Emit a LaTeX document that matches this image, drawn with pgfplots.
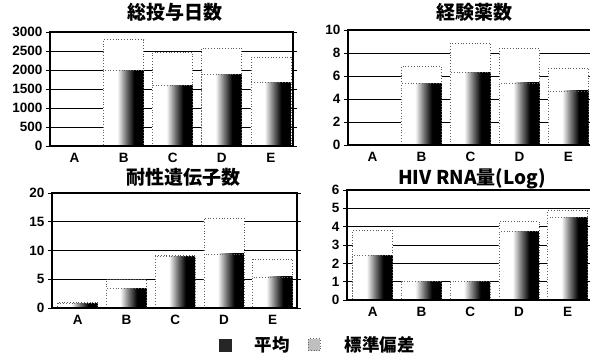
\documentclass[border=0pt]{standalone}
\usepackage{fontspec}
\setmainfont{Liberation Sans}
\newfontfamily\jp{Noto Sans CJK JP}
\usepackage{pgfplots}
\usepackage{pgfplotstable}
\pgfplotsset{compat=1.18}
\pgfdeclareverticalshading{barshade}{100bp}{color(0bp)=(black); color(37bp)=(black); color(47bp)=(black!55); color(58bp)=(white); color(100bp)=(white)}

% mean and mean + standard deviation (top)
\pgfplotstableread{
x mean top
0 0 0
1 2000 2800
2 1600 2460
3 1890 2580
4 1680 2340
}\tdays
\pgfplotstableread{
x mean top
0 0 0
1 5.35 6.85
2 6.3 8.85
3 5.4 8.4
4 4.7 6.7
}\tdrugs
\pgfplotstableread{
x mean top
0 0.8 1.0
1 3.4 4.9
2 9.0 9.1
3 9.4 15.6
4 5.4 8.5
}\tgenes
\pgfplotstableread{
x mean top
0 2.45 3.8
1 1.0 1.0
2 1.0 1.0
3 3.73 4.28
4 4.49 4.87
}\trna

\pgfplotsset{panel/.style={
  scale only axis, ybar, bar width=40pt,
  xmin=-0.5, xmax=4.5, ymin=0,
  xtick={0,...,4}, xticklabels={A,B,C,D,E},
  ymajorgrids, major grid style={black,line width=0.8pt},
  axis line style={line width=1.6pt},
  tick align=outside, xtick style={draw=none},
  ytick style={black,line width=1pt}, major tick length=4pt,
  ticklabel style={font=\bfseries\fontsize{13.5}{13.5}\selectfont},
  /pgf/number format/assume math mode=true,
  /pgf/number format/1000 sep={},
  scaled y ticks=false,
  clip=false,
  title style={font=\jp\bfseries\fontsize{19}{19}\selectfont, anchor=base, inner sep=0pt},
},
meanbar/.style={bar shift=0pt, draw=black!60, dotted, line width=0.8pt, shade, shading=barshade, shading angle=90},
sdbar/.style={bar shift=0pt, fill=white, draw=black!65, dotted, line width=0.8pt},
}

\begin{document}
\begin{tikzpicture}
\path[use as bounding box] (0pt,0pt) rectangle (590pt,360pt);
\clip (0pt,0pt) rectangle (590pt,360pt);

% top-left
\begin{axis}[panel, at={(50pt,214pt)}, anchor=south west, width=243pt, height=114pt,
  xmax=4.45, ymax=3000, ytick={0,500,...,3000},
  title={総投与日数}, title style={at={(0.514,1.061)}}]
\addplot[sdbar, forget plot] table[x=x,y=top]{\tdays};
\pgfplotsinvokeforeach{1,...,4}{
  \addplot[meanbar, forget plot] table[x=x,y=mean, restrict x to domain=#1:#1]{\tdays};
}
\draw[line width=1.6pt] (rel axis cs:0,0) -- (rel axis cs:1,0);
\end{axis}

% top-right
\begin{axis}[panel, at={(348pt,215pt)}, anchor=south west, width=245pt, height=115pt,
  ymax=10, ytick={0,2,...,10},
  title={経験薬数}, title style={at={(0.518,1.043)}}]
\addplot[sdbar, forget plot] table[x=x,y=top]{\tdrugs};
\pgfplotsinvokeforeach{1,...,4}{
  \addplot[meanbar, forget plot] table[x=x,y=mean, restrict x to domain=#1:#1]{\tdrugs};
}
\draw[line width=1.6pt] (rel axis cs:0,0) -- (rel axis cs:1,0);
\end{axis}

% bottom-left
\begin{axis}[panel, at={(52pt,52pt)}, anchor=south west, width=245pt, height=115pt,
  xmin=-0.53, ymax=20, ytick={0,5,...,20},
  title={耐性遺伝子数}, title style={at={(0.535,1.026)}},
  legend style={at={(1.08,-0.32)}, anchor=center, draw=none, fill=none,
    legend columns=2, font=\jp\bfseries\fontsize{17.5}{17.5}\selectfont,
    nodes={inner xsep=0pt},
    /tikz/every odd column/.append style={column sep=24pt},
    /tikz/every even column/.append style={column sep=18pt}}]
\addlegendimage{legend image code/.code={\fill[black!85] (0pt,-6pt) rectangle (12pt,6pt);}}
\addlegendimage{legend image code/.code={\draw[black!60, dotted, line width=0.8pt, fill=black!25] (0pt,-6pt) rectangle (12pt,6pt);}}
\addplot[sdbar, forget plot] table[x=x,y=top]{\tgenes};
\pgfplotsinvokeforeach{0,...,4}{
  \addplot[meanbar, forget plot] table[x=x,y=mean, restrict x to domain=#1:#1]{\tgenes};
}
\legend{平均,標準偏差}
\draw[line width=1.6pt] (rel axis cs:0,0) -- (rel axis cs:1,0);
\end{axis}

% bottom-right
\begin{axis}[panel, at={(347pt,60pt)}, anchor=south west, width=245pt, height=110pt,
  xmin=-0.53, ymax=6, ytick={0,1,...,6},
  title={HIV RNA量(Log)}, title style={at={(0.51,1.0)}}]
\addplot[sdbar, forget plot] table[x=x,y=top]{\trna};
\pgfplotsinvokeforeach{0,...,4}{
  \addplot[meanbar, forget plot] table[x=x,y=mean, restrict x to domain=#1:#1]{\trna};
}
\draw[line width=1.6pt] (rel axis cs:0,0) -- (rel axis cs:1,0);
\end{axis}
\end{tikzpicture}
\end{document}
